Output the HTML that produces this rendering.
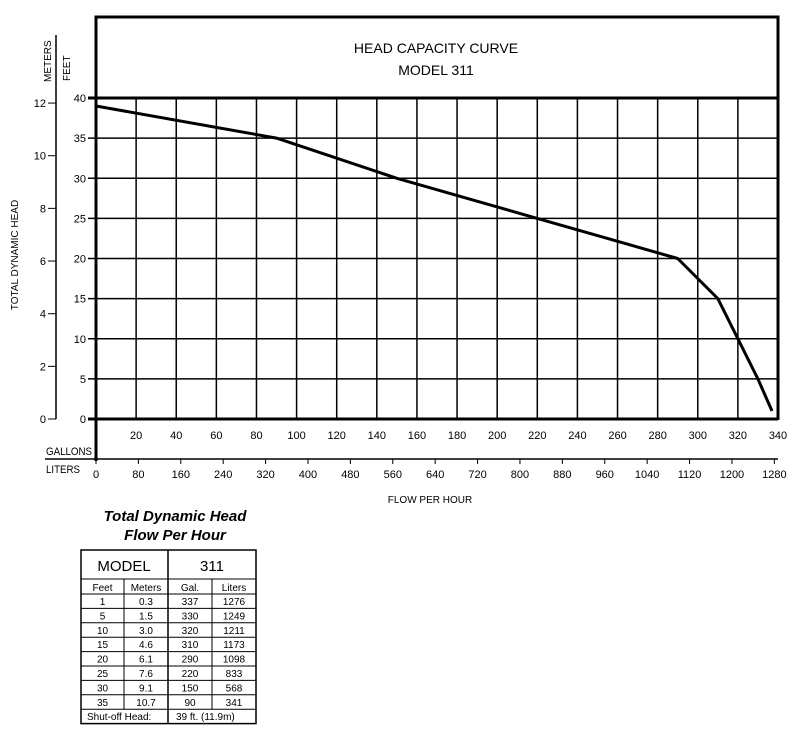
<!DOCTYPE html>
<html><head><meta charset="utf-8"><style>
body{margin:0;background:#fff;font-family:"Liberation Sans",Arial,sans-serif}
svg{display:block}
text{font-family:"Liberation Sans",Arial,sans-serif}
</style></head><body>
<svg id="c" width="800" height="750" viewBox="0 0 800 750">
<rect x="96" y="17" width="682" height="81" fill="none" stroke="#000" stroke-width="3"/>
<text x="436" y="53" font-size="14" text-anchor="middle">HEAD CAPACITY CURVE</text>
<text x="436" y="75" font-size="14" text-anchor="middle">MODEL 311</text>
<g id="grid"></g>
<g id="axes"></g>
<path id="curve" fill="none" stroke="#000" stroke-width="3" stroke-linejoin="round"/>
<text transform="translate(18,255) rotate(-90)" font-size="10" text-anchor="middle">TOTAL DYNAMIC HEAD</text>
<text transform="translate(51,82) rotate(-90)" font-size="10">METERS</text>
<text transform="translate(70,81) rotate(-90)" font-size="10">FEET</text>
<text x="46" y="455" font-size="11" textLength="46" lengthAdjust="spacingAndGlyphs">GALLONS</text>
<text x="46" y="473" font-size="11" textLength="34" lengthAdjust="spacingAndGlyphs">LITERS</text>
<text x="430" y="503" font-size="10" text-anchor="middle">FLOW PER HOUR</text>
<text x="175" y="521" font-size="15" font-weight="bold" font-style="italic" text-anchor="middle">Total Dynamic Head</text>
<text x="175" y="540" font-size="15" font-weight="bold" font-style="italic" text-anchor="middle">Flow Per Hour</text>
<g id="table"></g>
</svg>
<script>
const galTicks=[20,40,60,80,100,120,140,160,180,200,220,240,260,280,300,320,340];
const literTicks=[0,80,160,240,320,400,480,560,640,720,800,880,960,1040,1120,1200,1280];
const feetTicks=[0,5,10,15,20,25,30,35,40];
const meterTicks=[0,2,4,6,8,10,12];
const curveGal=[0,90,150,220,290,310,320,330,337];
const curveFeet=[39,35,30,25,20,15,10,5,1];
const tblFeet=["1","5","10","15","20","25","30","35"];
const tblMeters=["0.3","1.5","3.0","4.6","6.1","7.6","9.1","10.7"];
const tblGal=["337","330","320","310","290","220","150","90"];
const tblLiters=["1276","1249","1211","1173","1098","833","568","341"];
const NS="http://www.w3.org/2000/svg";
const X=g=>96+g*(682/340), Y=f=>419-f*(321/40);
const XL=l=>X(l/3.785), YM=m=>Y(m*3.2808);
function el(p,t,a,txt){const e=document.createElementNS(NS,t);for(const k in a)e.setAttribute(k,a[k]);if(txt!=null)e.textContent=txt;p.appendChild(e);return e;}
const grid=document.getElementById('grid'),axes=document.getElementById('axes');
feetTicks.forEach(f=>{
 const l=el(grid,'line',{x1:88,x2:778,y1:Y(f),y2:Y(f),stroke:'#000','stroke-width':(f===0||f===40)?3:1.5});
 
 
 const t=el(axes,'text',{x:86,y:Y(f)+4,'font-size':11,'text-anchor':'end'},f);
 
 
});
galTicks.forEach(g=>{
 const l=el(grid,'line',{x1:X(g),x2:X(g),y1:98,y2:419,stroke:'#000','stroke-width':g===340?3:1.5});
 
 
 const t=el(axes,'text',{x:X(g),y:439,'font-size':11,'text-anchor':'middle'},g);
 
 
});
let a=el(axes,'line',{x1:96,x2:96,y1:17,y2:461,stroke:'#000','stroke-width':3});


a=el(axes,'line',{x1:778,x2:778,y1:17,y2:420,stroke:'#000','stroke-width':3});


a=el(axes,'line',{x1:45,x2:778,y1:459,y2:459,stroke:'#000','stroke-width':1.5});


a=el(axes,'line',{x1:56,x2:56,y1:35,y2:419,stroke:'#000','stroke-width':1.5});


meterTicks.forEach(m=>{
 const l=el(axes,'line',{x1:48,x2:56,y1:YM(m),y2:YM(m),stroke:'#000','stroke-width':1});
 
 
 const t=el(axes,'text',{x:46,y:YM(m)+4,'font-size':11,'text-anchor':'end'},m);
 
 
});
literTicks.forEach(v=>{
 const l=el(axes,'line',{x1:XL(v),x2:XL(v),y1:459,y2:464,stroke:'#000','stroke-width':1});
 
 
 const t=el(axes,'text',{x:XL(v),y:478,'font-size':11,'text-anchor':'middle'},v);
 
 
});
document.getElementById('curve').setAttribute('d',curveGal.map((g,i)=>(i?'L':'M')+X(g).toFixed(1)+' '+Y(curveFeet[i]).toFixed(1)).join(' '));
const tb=document.getElementById('table');
const cx=[81,124,168,212,256], ry=[550,579,594];
for(let i=1;i<=9;i++) ry.push(594+i*14.4);
el(tb,'rect',{x:81,y:550,width:175,height:ry[ry.length-1]-550,fill:'#fff',stroke:'#000','stroke-width':1.5});
ry.slice(1,-1).forEach(y=>el(tb,'line',{x1:81,x2:256,y1:y,y2:y,stroke:'#000','stroke-width':1}));
el(tb,'line',{x1:168,x2:168,y1:550,y2:ry[ry.length-1],stroke:'#000','stroke-width':1.5});
[124,212].forEach(x=>el(tb,'line',{x1:x,x2:x,y1:579,y2:ry[ry.length-2],stroke:'#000','stroke-width':1}));
let t=el(tb,'text',{x:124,y:571,'font-size':15,'text-anchor':'middle'},'MODEL');


t=el(tb,'text',{x:212,y:571,'font-size':15,'text-anchor':'middle'},'311');


['Feet','Meters','Gal.','Liters'].forEach((h,i)=>{
 const e=el(tb,'text',{x:(cx[i]+cx[i+1])/2,y:591,'font-size':10,'text-anchor':'middle'},h);
 
 
});
tblFeet.forEach((f,r)=>{
 [f,tblMeters[r],tblGal[r],tblLiters[r]].forEach((v,i)=>{
  const e=el(tb,'text',{x:(cx[i]+cx[i+1])/2,y:ry[2+r]+11,'font-size':10,'text-anchor':'middle'},v);
  
  
 });
});
const ly=ry[ry.length-2]+11;
t=el(tb,'text',{x:87,y:ly,'font-size':10},'Shut-off Head:');


t=el(tb,'text',{x:176,y:ly,'font-size':10},'39 ft. (11.9m)');


</script>
</body></html>
